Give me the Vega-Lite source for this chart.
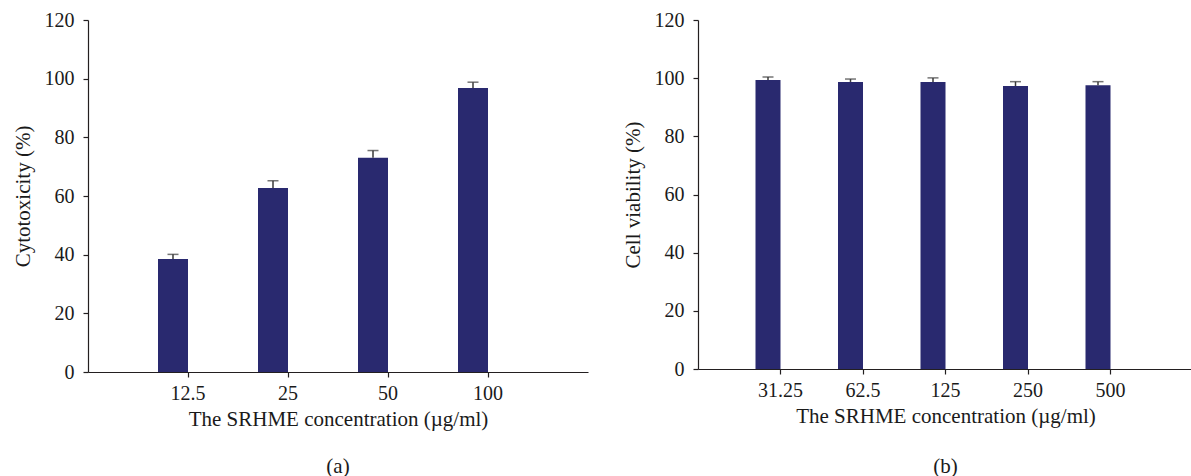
{
  "$schema": "https://vega.github.io/schema/vega-lite/v6.json",
  "padding": {"top": 10, "left": 12, "right": 0, "bottom": 0},
  "background": "white",
  "datasets": {
    "cyto": [
      {"conc": "12.5", "mean": 38.5, "upper": 40.1},
      {"conc": "25", "mean": 62.7, "upper": 65.2},
      {"conc": "50", "mean": 73.0, "upper": 75.5},
      {"conc": "100", "mean": 96.8, "upper": 98.8}
    ],
    "viab": [
      {"conc": "31.25", "mean": 99.4, "upper": 100.4},
      {"conc": "62.5", "mean": 98.7, "upper": 99.7},
      {"conc": "125", "mean": 98.7, "upper": 100.1},
      {"conc": "250", "mean": 97.3, "upper": 98.8},
      {"conc": "500", "mean": 97.6, "upper": 98.8}
    ]
  },
  "hconcat": [
    {
      "width": 500,
      "height": 352,
      "title": {"text": "(a)", "orient": "bottom", "anchor": "middle", "offset": 27},
      "data": {"name": "cyto"},
      "encoding": {
        "x": {
          "field": "conc", "type": "nominal", "sort": null,
          "scale": {"paddingOuter": 0.5, "paddingInner": 0},
          "axis": {"title": "The SRHME concentration (µg/ml)", "labelAngle": 0}
        }
      },
      "layer": [
        {
          "mark": {"type": "bar", "width": 30, "xOffset": -15, "color": "#29296f"},
          "encoding": {
            "y": {
              "field": "mean", "type": "quantitative",
              "scale": {"domain": [0, 120], "nice": false},
              "axis": {"title": "Cytotoxicity (%)", "values": [0, 20, 40, 60, 80, 100, 120]}
            }
          }
        },
        {
          "mark": {"type": "rule", "xOffset": -15, "color": "#3a3a3a", "strokeWidth": 1.5},
          "encoding": {"y": {"field": "mean", "type": "quantitative"}, "y2": {"field": "upper"}}
        },
        {
          "mark": {"type": "tick", "xOffset": -15, "color": "#3a3a3a", "thickness": 1.5, "size": 11},
          "encoding": {"y": {"field": "upper", "type": "quantitative"}}
        }
      ]
    },
    {
      "width": 495,
      "height": 349,
      "title": {"text": "(b)", "orient": "bottom", "anchor": "middle", "offset": 30},
      "data": {"name": "viab"},
      "encoding": {
        "x": {
          "field": "conc", "type": "nominal", "sort": null,
          "scale": {"paddingOuter": 0.5, "paddingInner": 0},
          "axis": {"title": "The SRHME concentration (µg/ml)", "labelAngle": 0}
        }
      },
      "layer": [
        {
          "mark": {"type": "bar", "width": 25, "xOffset": -12.5, "color": "#29296f"},
          "encoding": {
            "y": {
              "field": "mean", "type": "quantitative",
              "scale": {"domain": [0, 120], "nice": false},
              "axis": {"title": "Cell viability (%)", "values": [0, 20, 40, 60, 80, 100, 120]}
            }
          }
        },
        {
          "mark": {"type": "rule", "xOffset": -12.5, "color": "#3a3a3a", "strokeWidth": 1.5},
          "encoding": {"y": {"field": "mean", "type": "quantitative"}, "y2": {"field": "upper"}}
        },
        {
          "mark": {"type": "tick", "xOffset": -12.5, "color": "#3a3a3a", "thickness": 1.5, "size": 11},
          "encoding": {"y": {"field": "upper", "type": "quantitative"}}
        }
      ]
    }
  ],
  "spacing": 34,
  "config": {
    "view": {"stroke": null},
    "font": "Liberation Serif",
    "title": {"font": "Liberation Serif", "fontSize": 21, "fontWeight": "normal", "color": "#1a1a1a"},
    "axis": {
      "grid": false,
      "labelFont": "Liberation Serif",
      "labelFontSize": 20,
      "labelColor": "#1a1a1a",
      "titleFont": "Liberation Serif",
      "titleFontSize": 21,
      "titleFontWeight": "normal",
      "titleColor": "#1a1a1a",
      "domainColor": "#231f20",
      "domainWidth": 1.2,
      "tickColor": "#231f20",
      "tickWidth": 1.2,
      "tickSize": 5
    },
    "axisX": {"labelPadding": 6, "titlePadding": 5},
    "axisY": {"labelPadding": 9, "titlePadding": 11}
  }
}
